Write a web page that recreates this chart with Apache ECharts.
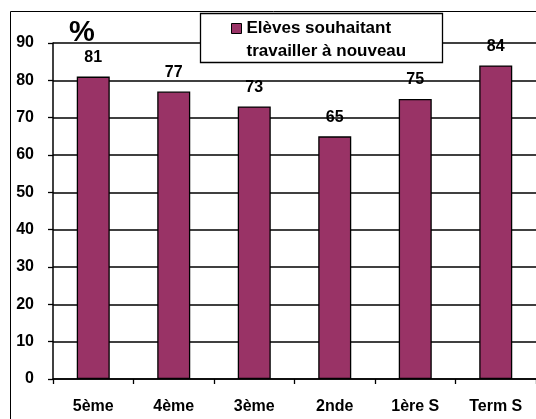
<!DOCTYPE html>
<html>
<head>
<meta charset="utf-8">
<script src="https://cdn.jsdelivr.net/npm/echarts@6/dist/echarts.min.js"></script>
<style>
  html, body { margin: 0; padding: 0; background: #fff; }
  #chart { width: 536px; height: 419px; }
</style>
</head>
<body>
<div id="chart"></div>
<script>
// données
const categories = ['5ème', '4ème', '3ème', '2nde', '1ère S', 'Term S']
const values = [81, 77, 73, 65, 75, 84]
const seriesName = 'Elèves souhaitant\ntravailler à nouveau'

const font = '"Liberation Sans", Arial, sans-serif'
const chart = echarts.init(document.getElementById('chart'))

const option = {
  animation: false,
  textStyle: { fontFamily: font },
  title: {
    text: '%',
    left: 64,
    top: 13,
    textStyle: { fontFamily: font, fontSize: 29, fontWeight: 'bold', color: '#000' }
  },
  graphic: [
    // cadre extérieur
    {
      type: 'rect',
      shape: { x: 10.5, y: 11.5, width: 540, height: 420 },
      style: { fill: 'none', stroke: '#000', lineWidth: 1 },
      z: -1
    },
    // boîte de la légende
    {
      type: 'rect',
      shape: { x: 200.5, y: 13.5, width: 242, height: 49 },
      style: { fill: '#fff', stroke: '#000', lineWidth: 1.3 },
      z: 3
    }
  ],
  legend: {
    data: [seriesName],
    left: 231,
    top: -6,
    padding: 0,
    icon: 'rect',
    itemWidth: 10,
    itemHeight: 10,
    itemGap: 0,
    itemStyle: { borderColor: '#000', borderWidth: 1 },
    formatter: (name) => '\n' + name,
    textStyle: { fontFamily: font, fontSize: 17, fontWeight: 'bold', color: '#000', lineHeight: 23 },
    z: 5
  },
  grid: { left: 53, right: -8, top: 43, bottom: 40 },
  xAxis: {
    type: 'category',
    data: categories,
    axisLine: { lineStyle: { color: '#000', width: 1.5 } },
    axisTick: { show: true, length: 5, lineStyle: { color: '#000', width: 1.3 } },
    axisLabel: { color: '#000', fontSize: 16, fontWeight: 'bold', margin: 20, interval: 0 }
  },
  yAxis: {
    type: 'value',
    min: 0,
    max: 90,
    interval: 10,
    axisLine: { show: true, lineStyle: { color: '#000', width: 1.5 } },
    axisTick: { show: true, length: 5, lineStyle: { color: '#000', width: 1.3 } },
    axisLabel: { color: '#000', fontSize: 16, fontWeight: 'bold', margin: 19 },
    splitLine: { show: true, lineStyle: { color: '#000', width: 1.5 } }
  },
  series: [
    {
      name: seriesName,
      type: 'bar',
      data: values,
      barWidth: 33,
      itemStyle: { color: '#993366', borderColor: '#000', borderWidth: 1.3 },
      label: {
        show: true,
        position: 'top',
        distance: 11,
        color: '#000',
        fontSize: 16,
        fontWeight: 'bold'
      }
    }
  ]
}
chart.setOption(option)
</script>
</body>
</html>
